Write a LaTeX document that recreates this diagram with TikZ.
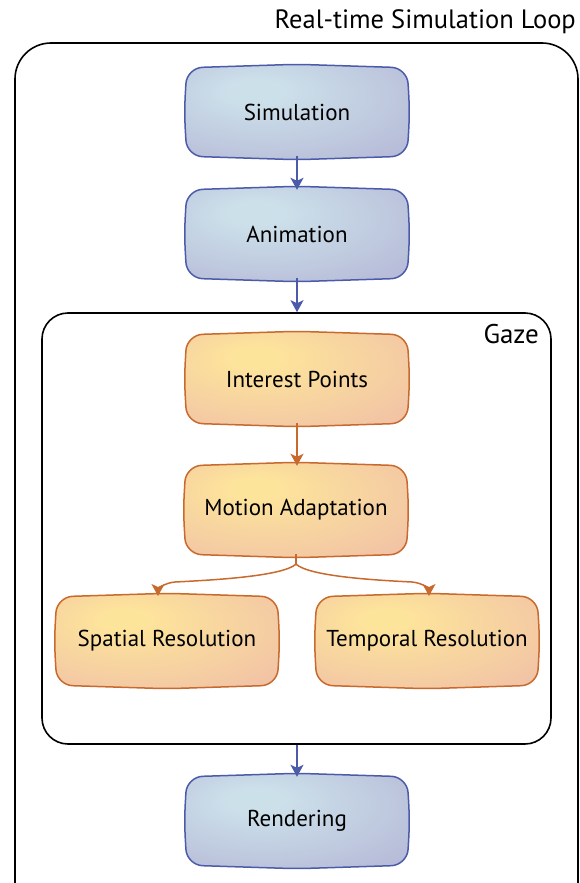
\documentclass[tikz,border=0pt]{standalone}
\usepackage{fontspec}
\setmainfont{PT Sans}
\usetikzlibrary{calc,arrows.meta}

\definecolor{blueedge}{HTML}{4B5BA9}
\definecolor{bluein}{HTML}{CCE0EA}
\definecolor{blueout}{HTML}{B1B1D3}
\definecolor{orangeedge}{HTML}{C8692D}
\definecolor{orangein}{HTML}{FDE49B}
\definecolor{orangeout}{HTML}{F1C2A6}

% radial fills with the bright spot up and to the left
\pgfdeclareradialshading{bluefill}{\pgfpoint{-10bp}{12bp}}{%
  color(0bp)=(bluein); color(6bp)=(bluein); color(48bp)=(blueout); color(80bp)=(blueout)}
\pgfdeclareradialshading{orangefill}{\pgfpoint{-10bp}{12bp}}{%
  color(0bp)=(orangein); color(5bp)=(orangein); color(40bp)=(orangeout); color(80bp)=(orangeout)}

\tikzset{
  stepnode/.style={rectangle, minimum width=220pt, minimum height=88pt,
    inner sep=0pt, font=\fontsize{23}{26}\selectfont},
  frame/.style={draw=black, line width=1.6pt, rounded corners=#1},
  tip/.style={-{Stealth[length=12pt,width=13pt,inset=3pt]}},
  bluearrow/.style={draw=blueedge, line width=1.5pt, tip},
  orangearrow/.style={draw=orangeedge, line width=1.5pt, tip},
  bluebox/.style={draw=blueedge, line width=1.5pt, shading=bluefill, rounded corners=16pt},
  orangebox/.style={draw=orangeedge, line width=1.5pt, shading=orangefill, rounded corners=16pt},
}

% soft box outline around a named node: gently bulging sides, rounded corners
\newcommand\softbox[2]{%
  \path[#2]
    (#1.north west) -- ($(#1.north)+(0,3.5pt)$) -- (#1.north east)
    -- ($(#1.east)+(2.5pt,0)$) -- (#1.south east)
    -- ($(#1.south)+(0,-3.5pt)$) -- (#1.south west)
    -- ($(#1.west)+(-2.5pt,0)$) -- cycle;}

\begin{document}
\begin{tikzpicture}[x=1pt, y=-1pt]
\useasboundingbox (0,0) rectangle (580,883);
\clip (0,0) rectangle (580,883);

% enclosing frames
\node[frame=36pt, minimum width=563pt, minimum height=880pt, inner sep=0pt]
  (loop) at (296.5,483) {};
\node[anchor=east, font=\fontsize{26.5}{30}\selectfont, inner sep=0pt]
  (looptitle) at (576,22) {Real-time Simulation Loop};
\node[frame=26pt, minimum width=509pt, minimum height=431pt, inner sep=0pt]
  (gaze) at (296.5,528.5) {};
\node[anchor=east, font=\fontsize{27}{30}\selectfont, inner sep=0pt]
  (gazetitle) at (539,334) {Gaze};

% step nodes (placed first, outlines drawn below their labels)
\coordinate (csim) at (297,112);
\coordinate (cani) at (297,234);
\coordinate (cren) at (297,821);
\coordinate (cint) at (297,379);
\coordinate (cmot) at (296,510);
\coordinate (cspa) at (167,641);
\coordinate (ctem) at (427,641);
\path (csim) node[stepnode] (sim) {};
\path (cani) node[stepnode] (ani) {};
\path (cren) node[stepnode] (ren) {};
\path (cint) node[stepnode] (int) {};
\path (cmot) node[stepnode] (mot) {};
\path (cspa) node[stepnode] (spa) {};
\path (ctem) node[stepnode] (tem) {};

\softbox{sim}{bluebox}
\softbox{ani}{bluebox}
\softbox{ren}{bluebox}
\softbox{int}{orangebox}
\softbox{mot}{orangebox}
\softbox{spa}{orangebox}
\softbox{tem}{orangebox}

\node[stepnode] at (sim) {Simulation};
\node[stepnode] at (ani) {Animation};
\node[stepnode] at (ren) {Rendering};
\node[stepnode] at (int) {Interest Points};
\node[stepnode] at (mot) {Motion Adaptation};
\node[stepnode] at (spa) {Spatial Resolution};
\node[stepnode] at (tem) {Temporal Resolution};

% connectors
\draw[bluearrow] (sim.south) -- (ani.north);
\draw[bluearrow] (ani.south) -- (ani.south |- gaze.north);
\draw[bluearrow] (ren.north |- gaze.south) -- (ren.north);
\draw[orangearrow] (int.south) -- (int.south |- mot.north);

\coordinate (fork) at ($(mot.south)+(0,-10pt)$);
\coordinate (spatop) at (158,596);
\coordinate (temtop) at (429,596);
\draw[orangeedge, line width=1.5pt] (mot.south) -- (fork);
\draw[orangearrow] (fork) .. controls +(-14,12) and +(40,-2) .. (175,582)
  .. controls +(-12,1) and +(0,-6) .. (spatop);
\draw[orangearrow] (fork) .. controls +(14,12) and +(-40,-2) .. (412,582)
  .. controls +(12,1) and +(0,-6) .. (temtop);
\end{tikzpicture}
\end{document}
